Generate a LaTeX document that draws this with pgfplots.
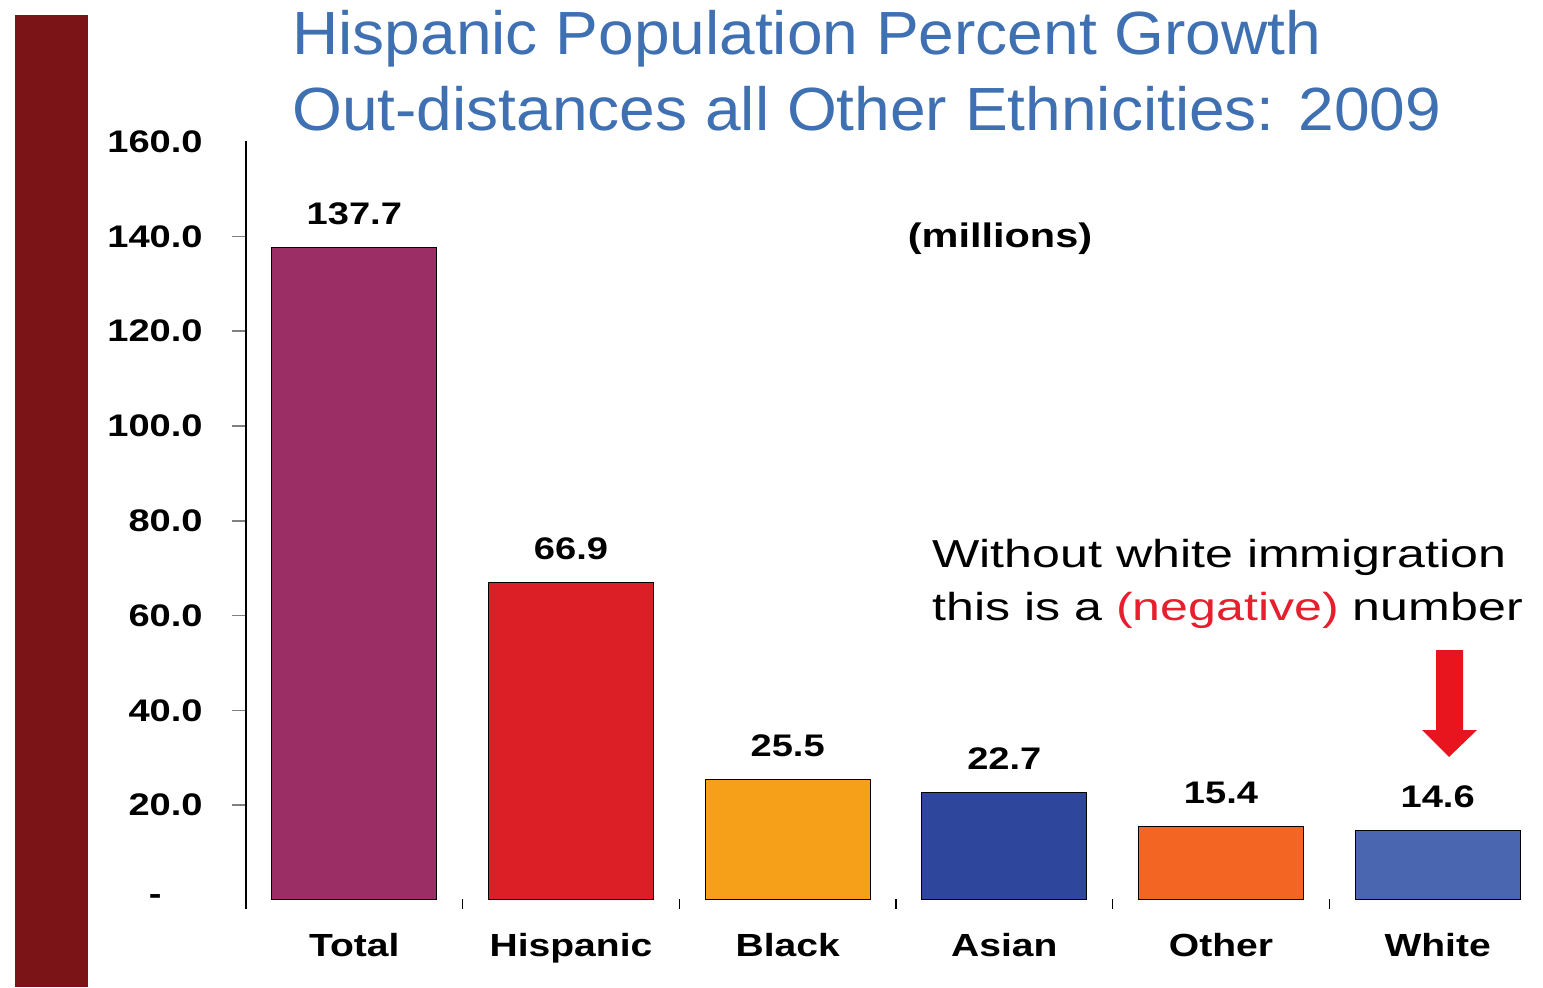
\documentclass[border=0pt]{standalone}
\usepackage{pgfplots}
\pgfplotsset{compat=1.18}
\usepackage{fontspec}
\setmainfont{Liberation Sans}
\newfontfamily\lab[FakeStretch=1.22]{Liberation Sans}
\newfontfamily\ttl[FakeStretch=1.05]{Liberation Sans}
\newfontfamily\ann[FakeStretch=1.285]{Liberation Sans}
\definecolor{cTotal}{RGB}{155,47,101}
\definecolor{cHisp}{RGB}{220,31,38}
\definecolor{cBlack}{RGB}{246,160,26}
\definecolor{cAsian}{RGB}{46,71,156}
\definecolor{cOther}{RGB}{242,101,34}
\definecolor{cWhite}{RGB}{74,102,176}
\definecolor{leftbar}{RGB}{123,20,22}
\definecolor{ttlblue}{RGB}{62,112,178}
\definecolor{negred}{RGB}{230,30,45}
\definecolor{arrowred}{RGB}{232,20,30}
\begin{document}
\begin{tikzpicture}[pix/.style={x=0.5pt,y=-0.5pt,shift={(-123pt,454.5pt)}}]
\begin{scope}[pix]
\fill[leftbar] (15,15) rectangle (88,987);
\end{scope}
\begin{axis}[at={(0,0)}, anchor=south west, scale only axis,
  width=650pt, height=383.75pt,
  xmin=-0.5, xmax=5.5, ymin=-1.9, ymax=160,
  ybar, bar width=82.5pt,
  axis lines*=left,
  x axis line style={draw=none},
  y axis line style={line width=0.8pt},
  tick align=outside, major tick length=7pt,
  ytick={20,40,...,140},
  yticklabels={20.0,40.0,60.0,80.0,100.0,120.0,140.0},
  extra y ticks={0,160},
  extra y tick labels={{-\kern20.5pt},160.0},
  extra y tick style={major tick length=0pt, tick label style={xshift=-7pt}},
  ytick style={line width=0.8pt},
  xtick={0,...,5},
  xticklabels={Total,Hispanic,Black,Asian,Other,White},
  xtick style={draw=none},
  yticklabel style={font=\lab\bfseries\fontsize{15.6}{18}\selectfont, inner sep=0pt, anchor=east, xshift=-14.5pt},
  xticklabel style={font=\lab\bfseries\fontsize{16}{19}\selectfont, inner sep=0pt, anchor=north, yshift=-5pt},
  nodes near coords,
  nodes near coords style={font=\lab\bfseries\fontsize{15.6}{18}\selectfont, anchor=base, inner sep=0pt, yshift=11.5pt,
    /pgf/number format/.cd, fixed, fixed zerofill, precision=1, assume math mode=true},
  clip=false,
]
\addplot[bar shift=0pt, fill=cTotal, draw=black, line width=0.5pt] coordinates {(0,137.7)};
\addplot[bar shift=0pt, fill=cHisp, draw=black, line width=0.5pt] coordinates {(1,66.9)};
\addplot[bar shift=0pt, fill=cBlack, draw=black, line width=0.5pt] coordinates {(2,25.5)};
\addplot[bar shift=0pt, fill=cAsian, draw=black, line width=0.5pt] coordinates {(3,22.7)};
\addplot[bar shift=0pt, fill=cOther, draw=black, line width=0.5pt] coordinates {(4,15.4)};
\addplot[bar shift=0pt, fill=cWhite, draw=black, line width=0.5pt] coordinates {(5,14.6)};
\draw[line width=0.8pt] (axis cs:0.5,-1.9) -- ++(0pt,5pt);
\draw[line width=0.8pt] (axis cs:1.5,-1.9) -- ++(0pt,5pt);
\draw[line width=0.8pt] (axis cs:2.5,-1.9) -- ++(0pt,5pt);
\draw[line width=0.8pt] (axis cs:3.5,-1.9) -- ++(0pt,5pt);
\draw[line width=0.8pt] (axis cs:4.5,-1.9) -- ++(0pt,5pt);
\draw[line width=0.8pt] (axis cs:5.5,-1.9) -- ++(0pt,5pt);
\end{axis}
\begin{scope}[pix]
\node[anchor=base west, inner sep=0pt, text=ttlblue, font=\ttl\fontsize{30.5}{36}\selectfont] at (292,55) {Hispanic Population Percent Growth};
\node[anchor=base west, inner sep=0pt, text=ttlblue, font=\ttl\fontsize{30.5}{36}\selectfont] at (292,131) {Out-distances all Other Ethnicities: 2009};
\node[inner sep=0pt, font=\lab\bfseries\fontsize{17}{20}\selectfont] at (1000,239) {(millions)};
\node[anchor=base west, inner sep=0pt, font=\ann\fontsize{19.5}{23}\selectfont] at (932,567) {Without white immigration};
\node[anchor=base west, inner sep=0pt, font=\ann\fontsize{19.5}{23}\selectfont] at (932,620) {this is a \textcolor{negred}{(negative)} number};
\fill[arrowred] (1436,650) -- (1463,650) -- (1463,730) -- (1477,730) -- (1449,757) -- (1422,730) -- (1436,730) -- cycle;
\end{scope}
\pgfresetboundingbox
\path[pix, use as bounding box] (0,0) rectangle (1543,987);
\end{tikzpicture}
\end{document}
